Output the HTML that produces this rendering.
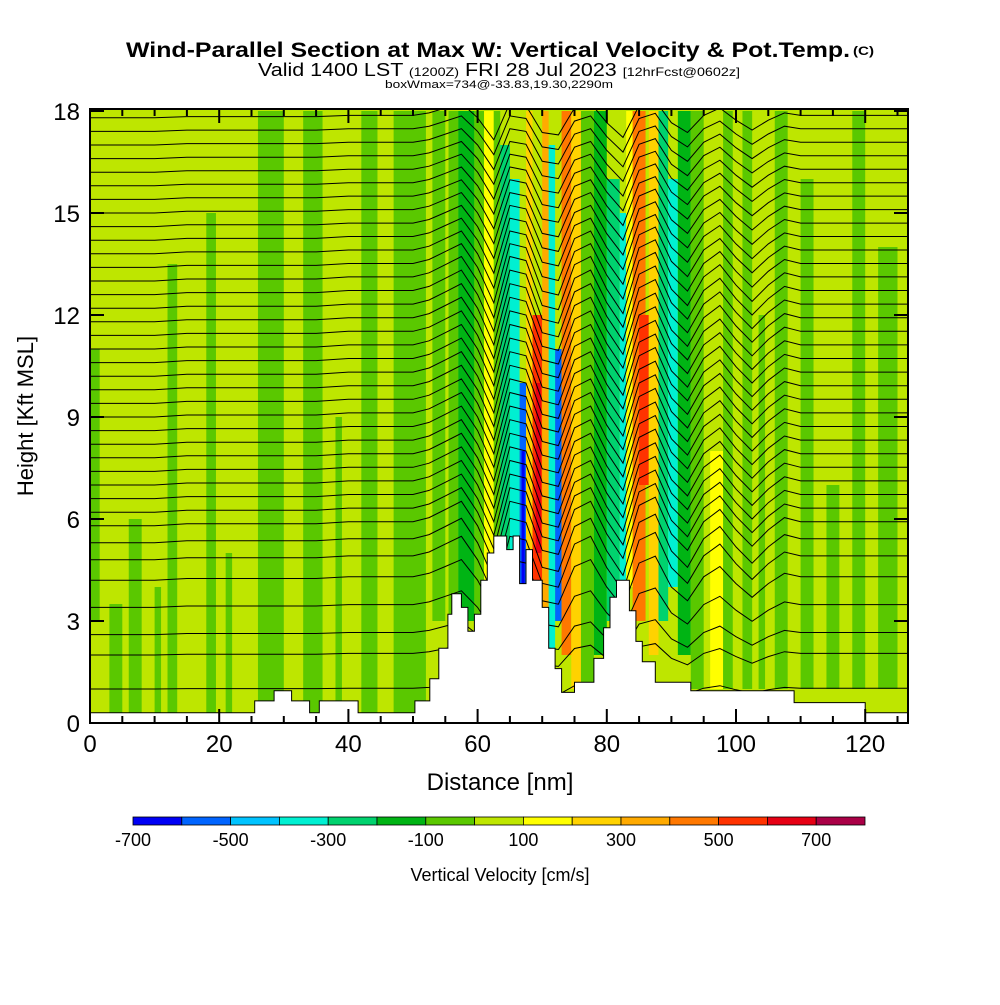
<!DOCTYPE html>
<html><head><meta charset="utf-8"><style>
body{margin:0;background:#fff}
svg text{font-family:"Liberation Sans",Arial,sans-serif}
</style></head><body>
<svg id="chart" width="1000" height="1000" xmlns="http://www.w3.org/2000/svg">
<g>
<text x="126" y="57" font-size="21" font-weight="bold" textLength="724" lengthAdjust="spacingAndGlyphs">Wind-Parallel Section at Max W: Vertical Velocity &amp; Pot.Temp.</text>
<text x="853" y="55" font-size="12" font-weight="bold" textLength="21" lengthAdjust="spacingAndGlyphs">(C)</text>
<text x="258" y="76" font-size="18" textLength="482" lengthAdjust="spacingAndGlyphs">Valid 1400 LST <tspan font-size="12">(1200Z)</tspan> FRI 28 Jul 2023 <tspan font-size="12">[12hrFcst@0602z]</tspan></text>
<text x="385" y="88" font-size="11" textLength="228" lengthAdjust="spacingAndGlyphs">boxWmax=734@-33.83,19.30,2290m</text>
</g>
<defs><clipPath id="plotclip"><rect x="90" y="109" width="818" height="614"/></clipPath></defs>
<g id="field" clip-path="url(#plotclip)"></g>
<g id="contours" clip-path="url(#plotclip)"></g>
<g id="terrain" clip-path="url(#plotclip)"></g>
<rect x="90" y="109" width="818" height="614" fill="none" stroke="#000" stroke-width="2"/>
<g id="axes"></g>
<text x="500" y="790" font-size="24" text-anchor="middle">Distance [nm]</text>
<text transform="translate(33,416) rotate(-90)" font-size="22" text-anchor="middle">Height [Kft MSL]</text>
<g id="colorbar"></g>
<text x="500" y="881" font-size="18" text-anchor="middle">Vertical Velocity [cm/s]</text>
</svg>
<script>
const levelColors=["#0000f5","#0064ff","#00c3ff","#00f0d2","#00d26e","#00b414","#5ac800","#bee600","#ffff00","#ffd200","#ffaa00","#ff7800","#ff3200","#e60014","#aa0046"];
const cbLabels=["-700","-500","-300","-100","100","300","500","700"];
const xTicks=[0,20,40,60,80,100,120];
const yTicks=[0,3,6,9,12,15,18];
// strips: [x0 nm, x1 nm, bottom kft, top kft, color level]
const strips=[
[0,1.5,3,11,6],[3,5,0,3.5,6],[6,8,0,6,6],[10,11,0,4,6],[12,13.5,0,13.5,6],[18,19.5,0,15,6],[21,22,0,5,6],
[26,30,0,18,6],[33,36,0,18,6],[38,39,0,9,6],[42,44.5,0,18,6],[47,52,0,18,6],[53,55,3,18,6],
[55.5,57,2,18,6],[57,59.5,3,18,5],[59.5,61,3,18,6],[61,62.5,4,18,8],[62.5,63.5,4,18,6],[63.5,65,4,17,4],
[65,66.5,5,16,3],[66.5,67.5,3.5,10,1],[66.8,67.3,4,8,0],[67.5,68.5,4,18,9],[68.5,70,4,12,12],[69,69.8,5,10,13],
[70,71,3,18,10],[71,72,1.5,17,3],[72,73,3,11,1],[73,74.5,2,18,11],[74.5,76,1,18,9],[76,78,1,18,6],
[78,80,2,18,5],[80,82,3,16,4],[82,83,3.5,15,3],[83,84,4,18,8],[84,86,3,18,11],[85,86.5,7,12,12],
[86.5,88,2,18,9],[88,89.5,3,18,4],[89.5,91,4,16,3],[91,93,2,18,5],[93,95,1,18,6],[96,98,1,8,8],[98,99.5,1,18,6],
[101,102.5,1,18,6],[103.5,104.5,1,12,6],[106,108,1,18,6],[110,112,1,16,6],[114,116,1,7,6],[118,120,1,18,6],[122,125,1,14,6]
];
const terrainX=[0,25.5,25.5,28.5,28.5,31.2,31.2,34,34,35.5,35.5,41.5,41.5,50.3,50.3,52.6,52.6,54,54,55.4,55.4,56,56,57.5,57.5,58.5,58.5,59.5,59.5,60.5,60.5,61.5,61.5,62.5,62.5,64.5,64.5,65.5,65.5,66.5,66.5,67.5,67.5,68.5,68.5,70,70,71,71,72,72,73,73,75,75,78,78,79.5,79.5,80.5,80.5,81.5,81.5,83.5,83.5,84.5,84.5,85.5,85.5,87.5,87.5,93,93,109,109,120,120,127];
const terrainH=[0.3,0.3,0.65,0.65,0.95,0.95,0.65,0.65,0.3,0.3,0.65,0.65,0.3,0.3,0.65,0.65,1.3,1.3,2.2,2.2,3.2,3.2,3.8,3.8,3.4,3.4,2.7,2.7,3.2,3.2,4.2,4.2,5.0,5.0,5.5,5.5,5.1,5.1,5.5,5.5,4.1,4.1,5.1,5.1,4.2,4.2,3.4,3.4,2.2,2.2,1.6,1.6,0.9,0.9,1.2,1.2,1.9,1.9,2.8,2.8,3.7,3.7,4.2,4.2,3.3,3.3,2.4,2.4,1.8,1.8,1.2,1.2,0.95,0.95,0.6,0.6,0.3,0.3];
const thetaLevels=[1.0,2.0,2.6,3.4,4.2,4.8,5.3,5.8,6.2,6.6,7.0,7.4,7.8,8.2,8.6,9.0,9.4,9.8,10.2,10.6,11.0,11.4,11.8,12.2,12.6,13.0,13.4,13.8,14.2,14.6,15.0,15.4,15.8,16.2,16.6,17.0,17.4,17.8];
const dispX=[0,5,10,15,20,25,30,35,40,45,50,52.5,55,57.5,60,62.5,65,67.5,70,72.5,75,77.5,80,82.5,85,87.5,90,92.5,95,97.5,100,102.5,105,107.5,110,115,120,127.5];
const dispH=[0,0,0,0.05,0.05,0.05,0.05,0.05,0.1,0.1,0.1,0.2,0.4,0.6,0,-0.9,0.6,0.5,-0.6,-0.7,0.4,0.6,-0.2,-0.8,0.5,0.7,-0.2,-0.6,0.1,0.4,-0.1,-0.5,-0.1,0.2,0.1,0.1,0.1,0.1];

const NS="http://www.w3.org/2000/svg";
const sx=v=>90+v*6.46, sy=v=>723-v*34;
function mk(tag,attrs,parent){const e=document.createElementNS(NS,tag);for(const k in attrs)e.setAttribute(k,attrs[k]);parent.appendChild(e);return e;}
const field=document.getElementById('field');
const bg=mk('rect',{x:90,y:109,width:818,height:614,fill:levelColors[7]},field);


strips.forEach(s=>{
  const r=mk('rect',{x:sx(s[0]),y:sy(s[3]),width:sx(s[1])-sx(s[0]),height:sy(s[2])-sy(s[3]),fill:levelColors[s[4]]},field);
  
  
});
const cont=document.getElementById('contours');
thetaLevels.forEach(h=>{
  const amp=Math.min(1,h/5)*(h>13?1-(h-13)/12:1);
  let d='';
  dispX.forEach((x,i)=>{d+=(i?'L':'M')+sx(x).toFixed(1)+','+sy(h+dispH[i]*amp*1.2).toFixed(1);});
  const p=mk('path',{d:d,fill:'none',stroke:'#000','stroke-width':1},cont);
  
  
});
const ter=document.getElementById('terrain');
let td='M'+sx(0)+','+sy(0);
terrainX.forEach((x,i)=>{td+='L'+sx(x).toFixed(1)+','+sy(terrainH[i]).toFixed(1);});
td+='L'+sx(127)+','+sy(0)+'Z';
const tp=mk('path',{d:td,fill:'#fff',stroke:'#000','stroke-width':1},ter);


const axes=document.getElementById('axes');
xTicks.forEach(v=>{
  const t=mk('text',{x:sx(v),y:752,'font-size':24,'text-anchor':'middle'},axes);t.textContent=v;
  
  
});
for(let v=0;v<=125;v+=5){
  const len=v%20===0?14:7;
  const l1=mk('line',{x1:sx(v),x2:sx(v),y1:723,y2:723-len,stroke:'#000','stroke-width':2},axes);
  
  
  const l2=mk('line',{x1:sx(v),x2:sx(v),y1:109,y2:109+len,stroke:'#000','stroke-width':2},axes);
  
  
}
yTicks.forEach(v=>{
  const t=mk('text',{x:80,y:sy(v)+9,'font-size':24,'text-anchor':'end'},axes);t.textContent=v;
  
  
  [[90,104],[908,894]].forEach(p=>{
    const l=mk('line',{x1:p[0],x2:p[1],y1:sy(v),y2:sy(v),stroke:'#000','stroke-width':2},axes);
    
    
  });
});
const cb=document.getElementById('colorbar');
const bw=732/levelColors.length;
levelColors.forEach((c,i)=>{
  const r=mk('rect',{x:133+i*bw,y:817,width:bw,height:8,fill:c,stroke:'#000','stroke-width':0.8},cb);
  
  
});
cbLabels.forEach((s,i)=>{
  const t=mk('text',{x:133+i*2*bw,y:846,'font-size':18,'text-anchor':'middle'},cb);t.textContent=s;
  
  
});
</script>
</body></html>
